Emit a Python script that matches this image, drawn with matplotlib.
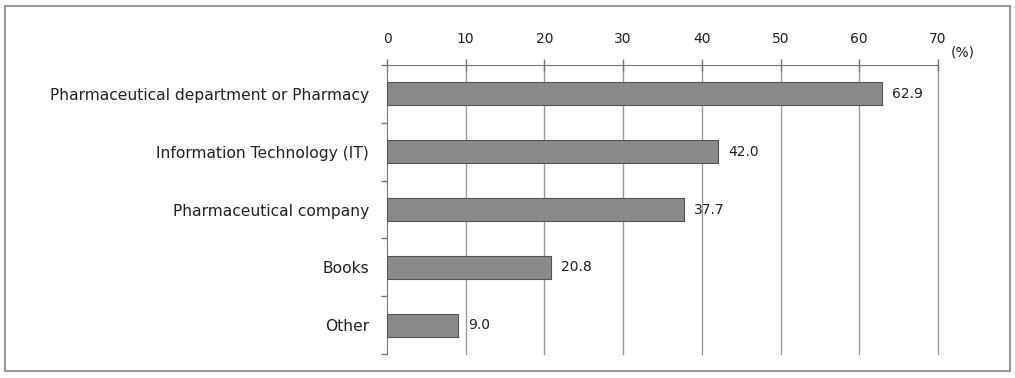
import numpy as np
import matplotlib.pyplot as plt
from matplotlib.patches import Rectangle

# data
categories = ['Pharmaceutical department or Pharmacy',
              'Information Technology (IT)',
              'Pharmaceutical company',
              'Books',
              'Other']
values = [62.9, 42.0, 37.7, 20.8, 9.0]
xticks = [0, 10, 20, 30, 40, 50, 60, 70]

plt.rcParams['font.family'] = ['DejaVu Sans']

fig = plt.figure(figsize=(10.15, 3.78), dpi=100)
ax = fig.add_axes([0.3813, 0.0635, 0.5428, 0.7645])

# outer frame around the whole chart
fig.patches.append(Rectangle((0.005, 0.018), 0.99, 0.967, transform=fig.transFigure,
                             fill=False, edgecolor='#9a9a9a', linewidth=1.5))

y = np.arange(len(categories))
ax.barh(y, values, height=0.4, color='#8a8a8a', edgecolor='#555555', linewidth=0.8, zorder=3)

for yi, v in zip(y, values):
    ax.text(v + 1.3, yi, f'{v:.1f}', va='center', ha='left', fontsize=10, color='#222222')

ax.set_xlim(0, 70)
ax.set_ylim(len(categories) - 0.5, -0.5)
ax.xaxis.tick_top()
ax.set_xticks(xticks)
ax.set_xticklabels([str(t) for t in xticks], fontsize=10, color='#222222')
ax.tick_params(axis='x', direction='inout', length=9, width=1, color='#777777', pad=9)

ax.set_yticks(y)
ax.set_yticklabels(categories, fontsize=11.2, color='#222222')
ax.set_yticks(np.arange(len(categories) + 1) - 0.5, minor=True)
ax.tick_params(axis='y', which='major', length=0, pad=13)
ax.tick_params(axis='y', which='minor', direction='out', length=4, width=1, color='#777777')

# vertical gridlines, incl. the one at 70 on the edge
for t in xticks[1:]:
    ax.axvline(t, color='#999999', linewidth=1, zorder=0, clip_on=False)

for s in ['right', 'bottom']:
    ax.spines[s].set_visible(False)
ax.spines['top'].set_color('#777777')
ax.spines['left'].set_color('#777777')

fig.text(0.937, 0.86, '(%)', fontsize=10, color='#222222', ha='left', va='center')

fig.savefig('out.png', dpi=100)
